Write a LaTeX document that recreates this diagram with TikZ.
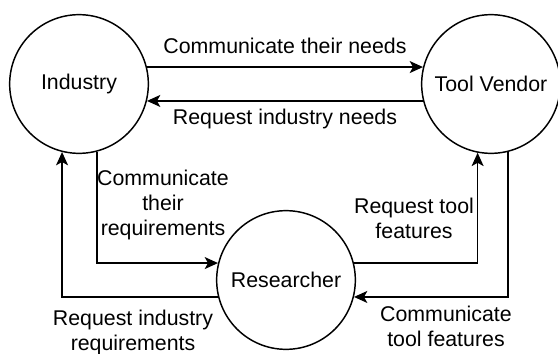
\documentclass[tikz,border=0pt]{standalone}
\usepackage{fontspec}
\setmainfont{Liberation Sans}
\usetikzlibrary{arrows.meta}

\tikzset{
  entity/.style={circle, draw, line width=1.1pt, minimum size=104pt, inner sep=0pt, font=\fontsize{16}{18.75}\selectfont},
  flow/.style={line width=1.1pt, -{Stealth[length=10pt,width=9pt,inset=2.5pt]}},
  lbl/.style={align=center, inner sep=0.75pt, font=\fontsize{16}{18.75}\selectfont},
}

\begin{document}
\begin{tikzpicture}[x=0.75pt,y=0.75pt,yscale=-1,xscale=1]
\useasboundingbox (0,0) rectangle (558,354);

% Circles
\node[entity] (ind) at (79,84) {Industry};
\node[entity] (tool) at (491,84) {Tool Vendor};
\node[entity] (res) at (286,280) {Researcher};

% Connectors
\draw[flow] (ind.14) -- (tool.166);
\draw[flow] (tool.194) -- (ind.346);
\draw[flow] (ind.285) |- (res.166);
\draw[flow] (res.194) -| (ind.256);
\draw[flow] (res.14) -| (tool.259);
\draw[flow] (tool.284) |- (res.346);

% Text Node
\node[lbl] (needs) at (285,46) {Communicate their needs};
% Text Node
\node[lbl] (indneeds) at (285,119) {Request industry needs};
% Text Node
\node[lbl] (commreq) at (163,205) {Communicate\\their\\requirements};
% Text Node
\node[lbl] (reqreq) at (133,332) {Request industry\\requirements};
% Text Node
\node[lbl] (reqfeat) at (414,218) {Request tool\\features};
% Text Node
\node[lbl] (commfeat) at (446,326) {Communicate\\tool features};
\end{tikzpicture}
\end{document}
